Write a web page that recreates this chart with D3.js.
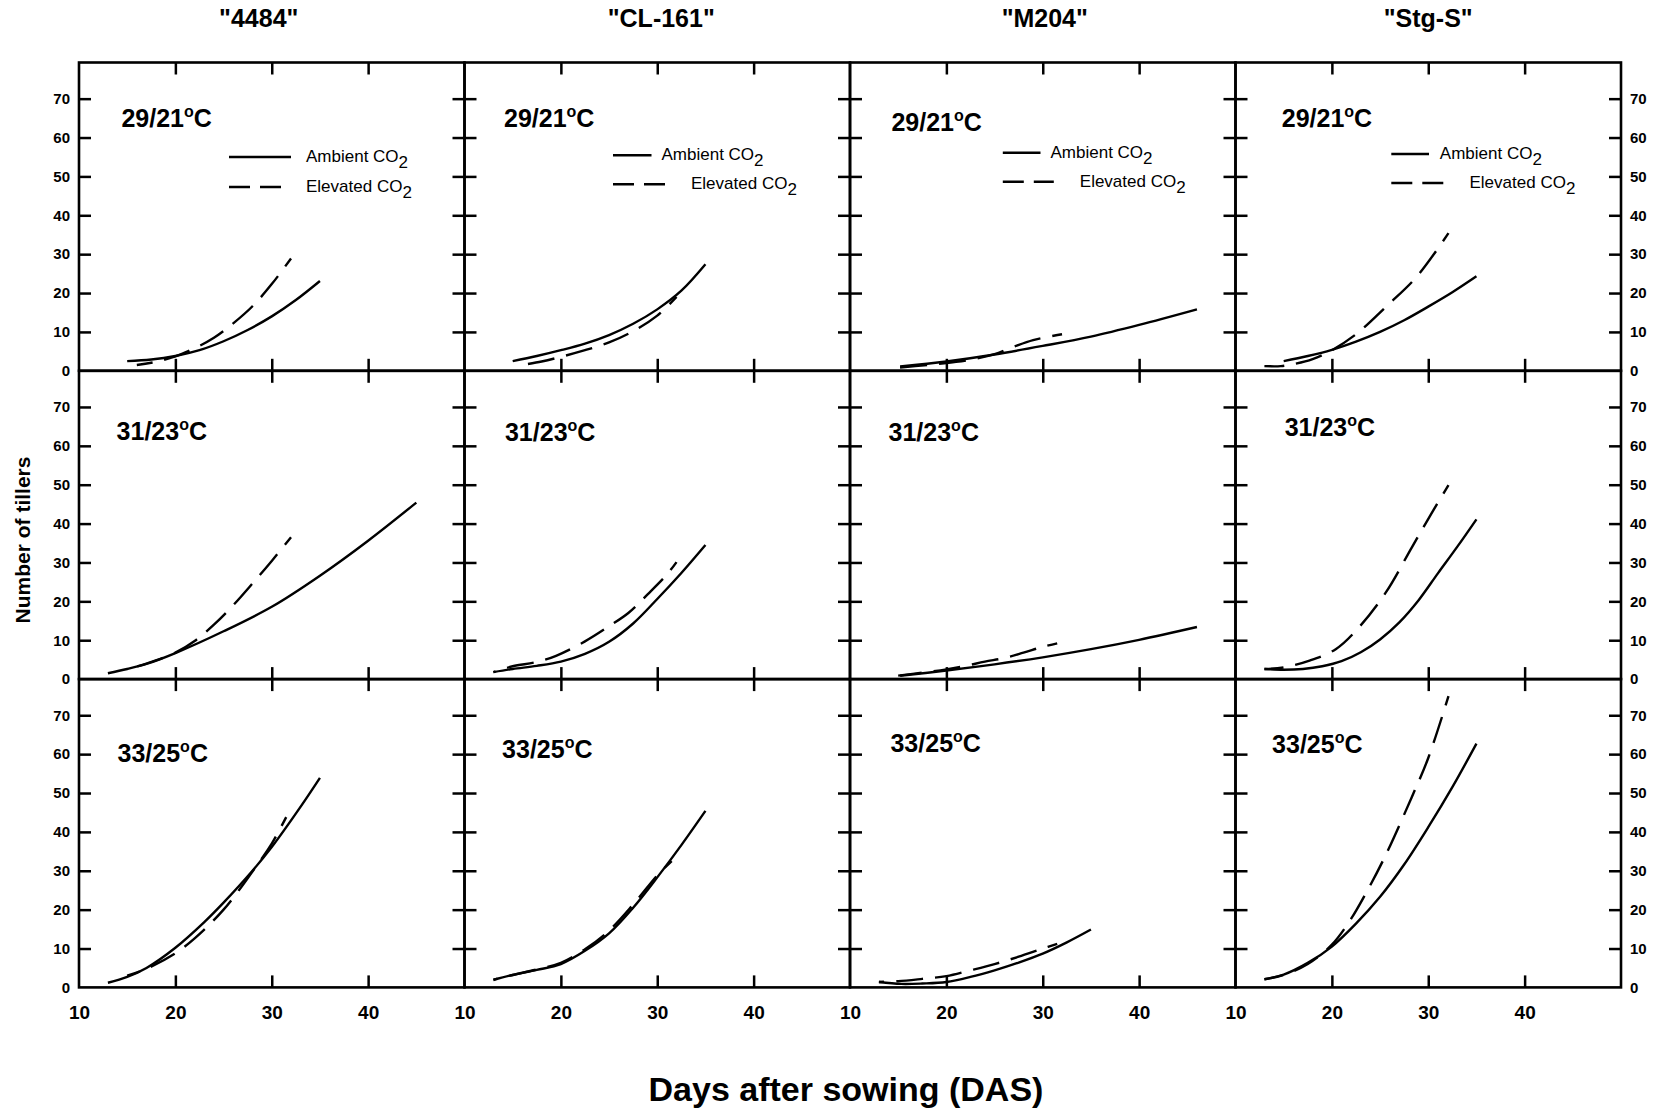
<!DOCTYPE html>
<html>
<head>
<meta charset="utf-8">
<script src="https://cdn.jsdelivr.net/npm/d3@7"></script>
<style>
  body { margin: 0; background: #fff; }
  svg text { font-family: Arial, "Liberation Sans", Helvetica, sans-serif; fill: #000; }
</style>
</head>
<body>
<svg class="chart"></svg>
<script>
var width = 1663,
    height = 1111;

var cultivars = ['"4484"', '"CL-161"', '"M204"', '"Stg-S"'];
var regimes = ["29/21", "31/23", "33/25"];
var xTicks = [10, 20, 30, 40];
var yTicks = [0, 10, 20, 30, 40, 50, 60, 70];
var legendNames = ["Ambient CO", "Elevated CO"];

// [days after sowing, tillers] along each fitted curve, one list per temperature regime
var ambient4484 = [
  [[15,2.5],[17.5,2.9],[20,3.8],[22.5,5.3],[25,7.6],[27.5,10.5],[30,14.0],[32.5,18.2],[35,23.1]],
  [[13,1.5],[15,2.6],[17,3.9],[20,6.7],[25,12.3],[30,18.6],[35,26.6],[40,35.6],[45,45.4]],
  [[13,1.2],[15,2.7],[17,5.0],[20,10.2],[23,16.8],[25,21.8],[28,30.0],[30,36.1],[33,46.5],[35,53.9]]
];
var elevated4484 = [
  [[16,1.5],[18,2.3],[20,3.7],[22,5.8],[24,8.5],[26,12.2],[28,16.6],[30,22.3],[32,28.9]],
  [[15,2.6],[17,4.0],[20,6.8],[22,9.8],[24,14.0],[26,19.0],[28,24.6],[30,30.4],[32,36.5]],
  [[15,3.0],[17,4.8],[20,8.8],[22,12.6],[25,20.0],[28,29.8],[30,37.0],[31.5,43.8]]
];
var ambientCL161 = [
  [[15,2.5],[17.5,3.8],[20,5.3],[22.5,7.0],[25,9.2],[27.5,12.1],[30,15.8],[32.5,20.6],[35,27.4]],
  [[13,1.8],[15,2.6],[17.5,3.4],[20,4.5],[22.5,6.5],[25,9.6],[27.5,14.3],[30,20.6],[32.5,27.3],[35,34.5]],
  [[13,1.9],[15,3.2],[17.5,4.5],[20,6.0],[22.5,9.4],[25,13.9],[27.5,20.5],[30,28.3],[32.5,36.6],[35,45.4]]
];
var elevatedCL161 = [
  [[16,1.5],[18,2.4],[20,3.6],[22.5,5.3],[25,7.3],[27.5,10.2],[30,14.2],[32,19.0]],
  [[13,1.8],[15,3.3],[17.5,4.4],[19.5,6.0],[22.5,9.7],[25,13.6],[27,17.0],[29,21.8],[31,26.9],[32,30.1]],
  [[13,2.0],[15,3.2],[17.5,4.6],[20,6.3],[22.5,9.8],[25,14.6],[27.5,21.3],[30,28.8],[31.5,32.5]]
];
var ambientM204 = [
  [[15.2,1.1],[20,2.4],[25,4.2],[30,6.4],[35,8.8],[40,11.8],[46,15.8]],
  [[15.2,0.85],[20,2.2],[25,3.8],[30,5.6],[35,7.7],[40,10.1],[46,13.4]],
  [[13,1.4],[15.3,0.9],[17.5,1.0],[20,1.4],[22.5,2.7],[25,4.4],[27.5,6.4],[30,8.7],[32.5,11.6],[35,14.9]]
];
var elevatedM204 = [
  [[15,0.8],[18,1.5],[21,2.3],[23,3.1],[25,4.3],[27,6.2],[29,7.9],[32,9.4]],
  [[15,0.9],[18,1.8],[20,2.5],[22,3.4],[24,4.5],[26,5.4],[28,6.8],[30,8.3],[31.5,9.2]],
  [[13,1.4],[15,1.6],[17.5,2.2],[20,2.9],[22.5,4.4],[25,6.0],[27.5,7.9],[30,10.0],[31.5,11.2]]
];
var ambientStgS = [
  [[15,2.5],[17.5,3.8],[20,5.4],[22.5,7.5],[25,10.0],[27.5,13.0],[30,16.5],[32.5,20.2],[35,24.3]],
  [[13,2.6],[15,2.4],[17,2.6],[19,3.3],[21,4.6],[23,6.9],[25,10.2],[27,14.6],[29,20.3],[31,27.2],[33,34.0],[35,41.1]],
  [[13,2.1],[15,3.3],[17.5,6.3],[20,10.5],[22.5,16.4],[25,23.3],[27.5,31.6],[30,41.2],[32.5,51.5],[35,62.7]]
];
var elevatedStgS = [
  [[13,1.2],[14.7,1.2],[16,1.7],[18,3.0],[20,5.3],[22.6,9.6],[25.8,16.9],[28.8,24.2],[32.1,35.4]],
  [[13,2.6],[15,3.0],[17.6,4.7],[20.4,7.7],[22.8,13.3],[25.6,22.3],[28.3,33.9],[30.4,42.9],[32.1,49.9]],
  [[13,2.1],[15,3.2],[17.5,6.0],[20,11.0],[21.9,17.3],[23.7,25.0],[25.5,33.6],[28.3,49.0],[30,59.0],[32.1,74.9]]
];

var ambient = [ambient4484, ambientCL161, ambientM204, ambientStgS];
var elevated = [elevated4484, elevatedCL161, elevatedM204, elevatedStgS];

// where each temperature label starts, in [days, tillers], row by row
var tempLabelAt = [
  [[14.4,62.8],[14.1,62.8],[14.3,61.7],[14.8,62.8]],
  [[13.9,61.6],[14.2,61.3],[14.0,61.3],[15.1,62.6]],
  [[14.0,58.0],[13.9,58.9],[14.2,60.6],[13.8,60.2]]
];

// legend layout in the top row: line start, solid end, dashed end, text x (ambient, elevated), rows y  (px from panel corner)
var legendLayout = [
  [150, 212, 203, 227, 227, 94.5, 124.5],
  [148.5, 187, 200.5, 197, 226.5, 92.8, 121.8],
  [152.8, 190.5, 203.8, 200.5, 229.8, 90.2, 119.2],
  [155.8, 193.5, 207.9, 204.3, 234, 91.5, 120.5]
];
var titleNudge = [-13, 4, 2, 0];

var marginLeft = 79, marginTop = 62.5,
    panelW = 385.5, rowH = 308.3;

var svg = d3.select(".chart")
            .attr("width", width)
            .attr("height", height);

svg.append("rect").attr("width", width).attr("height", height).attr("fill", "#fff");

var x = d3.scaleLinear().domain([10, 50]).range([0, panelW]);
var y = d3.scaleLinear().domain([0, 79.3]).range([rowH, 0]);

var line = d3.line()
  .x(function(d){ return x(d[0]); })
  .y(function(d){ return y(d[1]); })
  .curve(d3.curveCatmullRom.alpha(0.5));

function strokeAxis(g){
  g.select(".domain").remove();
  g.selectAll(".tick line").attr("stroke", "#000").attr("stroke-width", 2.5);
}

cultivars.forEach(function(name, c){
  regimes.forEach(function(reg, r){
    var g = svg.append("g")
      .attr("transform", "translate(" + (marginLeft + c*panelW) + "," + (marginTop + r*rowH) + ")");

    // inward ticks on all four sides
    g.append("g").call(d3.axisLeft(y).tickValues(yTicks.slice(1)).tickSize(-12).tickFormat(""))
      .call(strokeAxis);
    g.append("g").attr("transform", "translate(" + panelW + ",0)")
      .call(d3.axisRight(y).tickValues(yTicks.slice(1)).tickSize(-12).tickFormat(""))
      .call(strokeAxis);
    g.append("g").call(d3.axisTop(x).tickValues([20, 30, 40]).tickSize(-12).tickFormat(""))
      .call(strokeAxis);
    g.append("g").attr("transform", "translate(0," + rowH + ")")
      .call(d3.axisBottom(x).tickValues([20, 30, 40]).tickSize(-12).tickFormat(""))
      .call(strokeAxis);

    g.append("rect")
      .attr("width", panelW).attr("height", rowH)
      .attr("fill", "none").attr("stroke", "#000").attr("stroke-width", 2.6);

    if (c == 0) {
      var ya = g.append("g").call(d3.axisLeft(y).tickValues(yTicks).tickSize(0).tickPadding(9));
      ya.select(".domain").remove();
      ya.selectAll("text").style("font-size", "15px").style("font-weight", "bold");
    }
    if (c == cultivars.length - 1) {
      var yb = g.append("g").attr("transform", "translate(" + panelW + ",0)")
        .call(d3.axisRight(y).tickValues(yTicks).tickSize(0).tickPadding(9));
      yb.select(".domain").remove();
      yb.selectAll("text").style("font-size", "15px").style("font-weight", "bold");
    }
    if (r == regimes.length - 1) {
      var xa = g.append("g").attr("transform", "translate(0," + rowH + ")")
        .call(d3.axisBottom(x).tickValues(xTicks).tickSize(0).tickPadding(18));
      xa.select(".domain").remove();
      xa.selectAll("text").style("font-size", "19px").style("font-weight", "bold");
    }

    g.append("path")
      .datum(ambient[c][r])
      .attr("d", line)
      .attr("fill", "none").attr("stroke", "#000").attr("stroke-width", 2.4);
    var dashed = g.append("path")
      .datum(elevated[c][r])
      .attr("d", line)
      .attr("fill", "none").attr("stroke", "#000").attr("stroke-width", 2.4)
      .attr("stroke-dasharray", "27,12");
    // let the dashed curve finish on a short dash, as in the original
    var len = dashed.node().getTotalLength();
    dashed.attr("stroke-dashoffset", ((10 - len % 39) % 39 + 39) % 39);

    var pos = tempLabelAt[r][c];
    var t = g.append("text")
      .attr("x", x(pos[0])).attr("y", y(pos[1]))
      .style("font-size", "25px").style("font-weight", "bold");
    t.append("tspan").text(reg);
    t.append("tspan").attr("dy", -10).style("font-size", "16px").text("o");
    t.append("tspan").attr("dy", 10).text("C");

    if (r == 0) {
      var L = legendLayout[c];
      g.append("line").attr("x1", L[0]).attr("x2", L[1]).attr("y1", L[5]).attr("y2", L[5])
        .attr("stroke", "#000").attr("stroke-width", 2.6);
      g.append("line").attr("x1", L[0]).attr("x2", L[2]).attr("y1", L[6]).attr("y2", L[6])
        .attr("stroke", "#000").attr("stroke-width", 2.6).attr("stroke-dasharray", "21,10");
      [0, 1].forEach(function(k){
        var lt = g.append("text")
          .attr("x", L[3 + k]).attr("y", L[5 + k] + 5)
          .style("font-size", "17px");
        lt.append("tspan").text(legendNames[k]);
        lt.append("tspan").attr("dy", 6).text("2");
      });
    }
  });

  svg.append("text")
    .attr("x", marginLeft + c*panelW + panelW/2 + titleNudge[c])
    .attr("y", 27)
    .attr("text-anchor", "middle")
    .style("font-size", "25px").style("font-weight", "bold")
    .text(name);
});

svg.append("text")
  .attr("transform", "translate(30,540) rotate(-90)")
  .attr("text-anchor", "middle")
  .style("font-size", "21px").style("font-weight", "bold")
  .text("Number of tillers");

svg.append("text")
  .attr("x", 846)
  .attr("y", 1101)
  .attr("text-anchor", "middle")
  .style("font-size", "34px").style("font-weight", "bold")
  .text("Days after sowing (DAS)");
</script>
</body>
</html>
